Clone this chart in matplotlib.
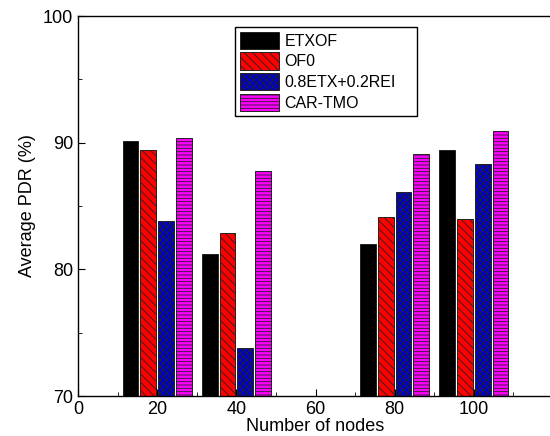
import matplotlib
matplotlib.use("Agg")
import matplotlib.pyplot as plt
from matplotlib.ticker import MultipleLocator
import numpy as np

plt.rcParams['font.family'] = ['Liberation Sans', 'DejaVu Sans']
plt.rcParams['hatch.linewidth'] = 0.6
plt.rcParams['hatch.color'] = 'black'

nodes = [20, 40, 80, 100]
series = ['ETXOF', 'OF0', '0.8ETX+0.2REI', 'CAR-TMO']
etxof = [90.1, 81.2, 82.0, 89.4]
of0 = [89.4, 82.9, 84.1, 84.0]
etx_rei = [83.8, 73.8, 86.1, 88.3]
car_tmo = [90.4, 87.8, 89.1, 90.9]

colors = ['black', 'red', '#0000cc', '#ff00ff']
hatches = ['', '\\\\\\\\', 'xxxxx', '-----']
offsets = [-6.75, -2.25, 2.25, 6.75]
width = 4.0

fig = plt.figure(figsize=(5.5, 4.36), dpi=100)
ax = fig.add_axes([78 / 550, 40 / 436, 475 / 550, 380 / 436])

x = np.array(nodes, dtype=float)
for vals, name, c, h, off in zip([etxof, of0, etx_rei, car_tmo], series, colors, hatches, offsets):
    ax.bar(x + off, vals, width=width, color=c, hatch=h, edgecolor='#222222',
           linewidth=0.7, label=name)

ax.set_xlim(0, 120)
ax.set_ylim(70, 100)
ax.xaxis.set_major_locator(MultipleLocator(20))
ax.xaxis.set_minor_locator(MultipleLocator(10))
ax.yaxis.set_major_locator(MultipleLocator(10))
ax.yaxis.set_minor_locator(MultipleLocator(5))
ax.set_xticks([0, 20, 40, 60, 80, 100])
ax.tick_params(which='both', direction='in', labelsize=13, top=False, right=False)
ax.tick_params(which='major', length=5)
ax.tick_params(which='minor', length=3)
ax.spines['right'].set_visible(False)
for s in ax.spines.values():
    s.set_linewidth(1.0)

ax.set_xlabel('Number of nodes', fontsize=13, labelpad=0)
ax.set_ylabel('Average PDR (%)', fontsize=13, labelpad=5)

ax.legend(loc='upper left', bbox_to_anchor=(0.33, 0.5, 0.383, 0.471), mode='expand',
          borderaxespad=0, fancybox=False, edgecolor='black', framealpha=1,
          fontsize=11.5, handlelength=2.5, handleheight=1.3, labelspacing=0.2,
          handletextpad=0.3, borderpad=0.3)

fig.savefig('out.png', dpi=100)
